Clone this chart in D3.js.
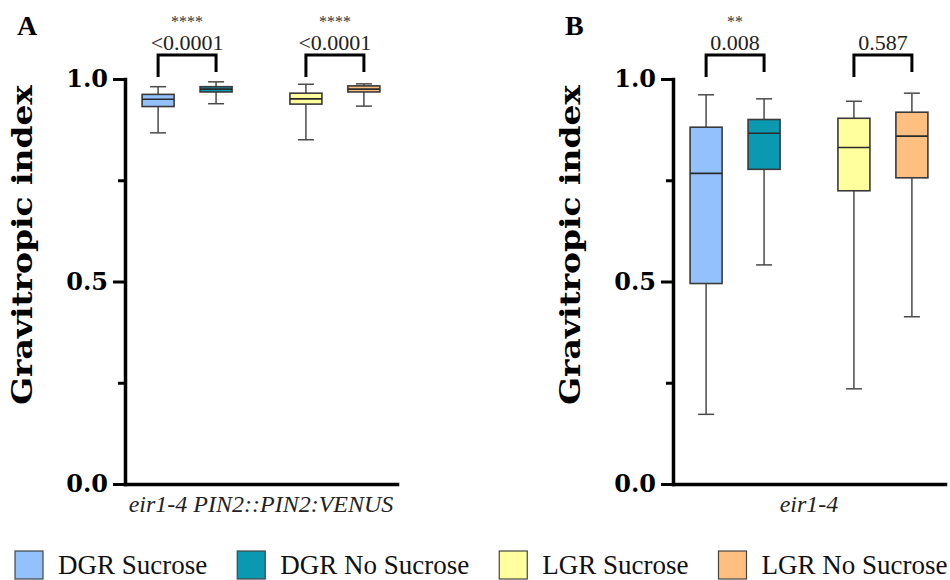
<!DOCTYPE html>
<html>
<head>
<meta charset="utf-8">
<script src="https://cdn.jsdelivr.net/npm/d3@7"></script>
<style>
    body { margin: 0; background: #fff; }
    .tick text { font-family: "DejaVu Serif", serif; font-weight: bold; font-size: 24px; fill: #000; }
    .y_label { font-family: "DejaVu Serif", serif; font-weight: bold; font-size: 28px; }
    .panel_letter { font-family: "Liberation Serif", serif; font-weight: bold; font-size: 28px; }
    .pval { font-family: "Liberation Serif", serif; font-size: 22px; fill: #222; }
    .stars { font-family: "Liberation Serif", serif; font-size: 16px; fill: #333; }
    .x_label { font-family: "Liberation Serif", serif; font-style: italic; font-size: 24px; fill: #222; }
    .legend text { font-family: "Liberation Serif", serif; font-size: 27px; fill: #111; }
</style>
</head>
<body>
<div id="chart"></div>
<script>
// Data Setup
var seriesNames = ["DGR Sucrose", "DGR No Sucrose", "LGR Sucrose", "LGR No Sucrose"];
var groups = ["DGR", "LGR"];
var conditions = ["Sucrose", "No Sucrose"];
var colors = ["#93c1fb", "#0b98b1", "#ffff9e", "#ffbf80"];

// Panel A: eir1-4 PIN2::PIN2:VENUS (min, q1, median, q3, max)
var aMin = [0.867, 0.939, 0.850, 0.933];
var aQ1  = [0.932, 0.968, 0.938, 0.968];
var aMed = [0.950, 0.975, 0.951, 0.975];
var aQ3  = [0.962, 0.981, 0.965, 0.983];
var aMax = [0.981, 0.993, 0.987, 0.988];
var aP = ["<0.0001", "<0.0001"];
var aStars = ["****", "****"];

// Panel B: eir1-4
var bMin = [0.172, 0.541, 0.235, 0.413];
var bQ1  = [0.495, 0.777, 0.724, 0.756];
var bMed = [0.767, 0.866, 0.831, 0.859];
var bQ3  = [0.881, 0.900, 0.903, 0.918];
var bMax = [0.961, 0.951, 0.945, 0.965];
var bP = ["0.008", "0.587"];
var bStars = ["**", ""];

var yTicks = [0, 0.5, 1.0];
var yMinorTicks = [0.25, 0.75];

var panels = [
    { letter: "A", label: "eir1-4 PIN2::PIN2:VENUS", min: aMin, q1: aQ1, med: aMed, q3: aQ3, max: aMax, p: aP, stars: aStars, left: 125 },
    { letter: "B", label: "eir1-4", min: bMin, q1: bQ1, med: bMed, q3: bQ3, max: bMax, p: bP, stars: bStars, left: 673 }
];

var width = 950;
var height = 580;
var panelWidth = 272;
var boxWidth = 32;
var capWidth = 16;

var svg = d3.select("#chart").append("svg")
    .attr("width", width)
    .attr("height", height);

// Scales
var yScale = d3.scaleLinear()
    .domain([0, 1])
    .range([484, 79]);

var groupScale = d3.scaleBand()
    .domain(groups)
    .range([0, panelWidth])
    .paddingInner(0.4)
    .paddingOuter(0.12);

var condScale = d3.scaleBand()
    .domain(conditions)
    .range([0, groupScale.bandwidth()])
    .paddingInner(0.47)
    .paddingOuter(0);

function xCenter(i) {
    var g = groups[Math.floor(i / 2)];
    var c = conditions[i % 2];
    return groupScale(g) + condScale(c) + condScale.bandwidth() / 2;
}

panels.forEach(function (panel) {
    var g = svg.append("g")
        .attr("transform", "translate(" + panel.left + ",0)");

    // Boxes
    var boxes = seriesNames.map(function (name, i) {
        return { name: name, i: i, min: panel.min[i], q1: panel.q1[i], med: panel.med[i], q3: panel.q3[i], max: panel.max[i] };
    });

    var box = g.selectAll(".box")
        .data(boxes)
        .enter().append("g")
        .attr("class", "box")
        .attr("transform", function (d) { return "translate(" + xCenter(d.i) + ",0)"; });

    // whiskers
    box.append("line")
        .attr("x1", 0).attr("x2", 0)
        .attr("y1", function (d) { return yScale(d.max); })
        .attr("y2", function (d) { return yScale(d.min); })
        .attr("stroke", "#4a4a4a")
        .attr("stroke-width", 1.5);

    box.selectAll(".cap")
        .data(function (d) { return [d.min, d.max]; })
        .enter().append("line")
        .attr("class", "cap")
        .attr("x1", -capWidth / 2).attr("x2", capWidth / 2)
        .attr("y1", function (v) { return yScale(v); })
        .attr("y2", function (v) { return yScale(v); })
        .attr("stroke", "#4a4a4a")
        .attr("stroke-width", 1.5);

    box.append("rect")
        .attr("x", -boxWidth / 2)
        .attr("width", boxWidth)
        .attr("y", function (d) { return yScale(d.q3); })
        .attr("height", function (d) { return yScale(d.q1) - yScale(d.q3); })
        .attr("fill", function (d) { return colors[d.i]; })
        .attr("stroke", "#3a3a3a")
        .attr("stroke-width", 1.6);

    box.append("line")
        .attr("x1", -boxWidth / 2).attr("x2", boxWidth / 2)
        .attr("y1", function (d) { return yScale(d.med); })
        .attr("y2", function (d) { return yScale(d.med); })
        .attr("stroke", "#2a2a2a")
        .attr("stroke-width", 1.6);

    // y-axis
    g.append("g")
        .attr("class", "y_axis")
        .call(d3.axisLeft(yScale).tickValues(yTicks).tickSize(12).tickSizeOuter(0).tickPadding(5).tickFormat(d3.format(".1f")))
        .call(function (a) {
            a.select(".domain").attr("stroke-width", 3.5).attr("stroke-linecap", "square");
            a.selectAll(".tick line").attr("stroke-width", 3);
        });

    g.append("g")
        .attr("class", "y_axis_minor")
        .call(d3.axisLeft(yScale).tickValues(yMinorTicks).tickSize(7).tickFormat(""))
        .call(function (a) {
            a.select(".domain").remove();
            a.selectAll(".tick line").attr("stroke-width", 3);
        });

    // x-axis
    g.append("g")
        .attr("class", "x_axis")
        .attr("transform", "translate(0," + yScale(0) + ")")
        .call(d3.axisBottom(groupScale).tickSize(0).tickSizeOuter(0).tickFormat(""))
        .call(function (a) {
            a.select(".domain").attr("stroke-width", 3.5).attr("stroke-linecap", "square");
        });

    g.append("text")
        .attr("class", "x_label")
        .attr("x", panelWidth / 2)
        .attr("y", yScale(0) + 28)
        .attr("text-anchor", "middle")
        .text(panel.label);

    // y label
    g.append("text")
        .attr("class", "y_label")
        .attr("transform", "translate(-93," + 245 + ") rotate(-90)")
        .attr("text-anchor", "middle")
        .attr("textLength", 320)
        .attr("lengthAdjust", "spacingAndGlyphs")
        .text("Gravitropic index");

    g.append("text")
        .attr("class", "panel_letter")
        .attr("x", -108)
        .attr("y", 35)
        .text(panel.letter);

    // Significance brackets
    groups.forEach(function (grp, k) {
        var x1 = xCenter(k * 2);
        var x2 = xCenter(k * 2 + 1);
        var top = yScale(1) - 24;
        g.append("path")
            .attr("d", "M" + x1 + "," + (yScale(1) - 2) + "V" + top + "H" + x2 + "V" + (yScale(1) - 7))
            .attr("fill", "none")
            .attr("stroke", "#000")
            .attr("stroke-width", 3);
        g.append("text")
            .attr("class", "pval")
            .attr("x", (x1 + x2) / 2)
            .attr("y", yScale(1) - 29)
            .attr("text-anchor", "middle")
            .text(panel.p[k]);
        if (panel.stars[k] !== "") {
            g.append("text")
                .attr("class", "stars")
                .attr("x", (x1 + x2) / 2)
                .attr("y", yScale(1) - 52)
                .attr("text-anchor", "middle")
                .text(panel.stars[k]);
        }
    });
});

// Legend
var legend = svg.append("g").attr("class", "legend");
var lx = 15;
seriesNames.forEach(function (name, i) {
    legend.append("rect")
        .attr("x", lx)
        .attr("y", 551)
        .attr("width", 28)
        .attr("height", 28)
        .attr("fill", colors[i])
        .attr("stroke", "#444")
        .attr("stroke-width", 1.2);
    var t = legend.append("text")
        .attr("x", lx + 43)
        .attr("y", 574)
        .text(name);
    lx = lx + 43 + t.node().getComputedTextLength() + 30;
});
</script>
</body>
</html>
